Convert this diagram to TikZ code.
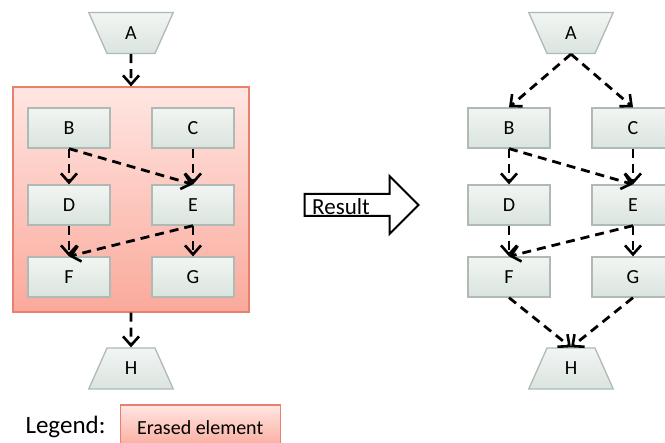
\documentclass[tikz,border=0pt]{standalone}
\usepackage{fontspec}
\setmainfont{Carlito}
\usetikzlibrary{arrows.meta,shapes.geometric,shapes.arrows}
\definecolor{boxtop}{HTML}{F2F5F3}
\definecolor{boxbot}{HTML}{DAE4DF}
\definecolor{boxline}{HTML}{AEBAB3}
\definecolor{redtop}{HTML}{FFE6E2}
\definecolor{redbot}{HTML}{FAA99B}
\definecolor{redline}{HTML}{E8806F}
\tikzset{
    stepbox/.style={draw=boxline, line width=1.3pt, top color=boxtop, bottom color=boxbot,
        minimum width=82pt, minimum height=40pt, font=\fontsize{20}{21}\selectfont},
    endbox/.style={draw=boxline, line width=1.3pt, top color=boxtop, bottom color=boxbot,
        font=\fontsize{20}{21}\selectfont, trapezium, trapezium angle=66, inner sep=0pt,
        text width=48pt, align=center, text height=27pt, text depth=14pt},
    erased/.style={draw=redline, line width=1.3pt, top color=redtop, bottom color=redbot},
    link/.style={line width=2.8pt, dash pattern=on 9pt off 6pt,
        -{Straight Barb[length=9pt,width=16pt,line width=2.6pt]}}
}
\begin{document}
\begin{tikzpicture}[x=1pt, y=-1pt]
    \useasboundingbox (0,0) rectangle (665,443);
    % Erased region on the left
    \node[erased, minimum width=236pt, minimum height=225pt] (area) at (131,199.5) {};
    % Draw both graphs
    \foreach \p/\off in {l/0, r/440} {
        \node[endbox, shape border rotate=180] (\p A) at (131+\off,33) {A};
        \node[endbox] (\p H) at (131+\off,368.5) {H};
        \foreach \name/\x/\y in {B/69/128, C/193/128, D/69/205, E/193/205, F/69/277, G/193/277}
            \node[stepbox] (\p\name) at (\x+\off,\y) {\name};
        \foreach \s/\t in {B/D, B/E, C/E, D/F, E/F, E/G}
            \draw[link] (\p\s.south) -- (\p\t.north);
    }
    % Edges in and out of the erased region
    \draw[link] (lA.south) -- (area.north);
    \draw[link] (area.south) -- (lH.north);
    % Edges of the result
    \draw[link] (rA.south) -- (rB.north);
    \draw[link] (rA.south) -- (rC.north);
    \draw[link] (rF.south) -- (rH.north);
    \draw[link] (rG.south) -- (rH.north);
    % Result arrow
    \node[single arrow, draw, line width=2pt, fill=white, minimum height=114pt,
        single arrow head extend=18pt, inner sep=0pt, text height=10pt, text depth=10pt,
        text width=60pt] (result) at (356,205) {};
    \node[font=\fontsize{23}{24}\selectfont, inner sep=0pt] (resulttext) at (341,207) {Result};
    % Legend
    \node[anchor=west, font=\fontsize{25}{26}\selectfont] (legend) at (22,427) {Legend:};
    \node[erased, anchor=north west, minimum width=160pt, minimum height=44pt,
        font=\fontsize{20}{22}\selectfont, text depth=0pt] (key) at (119.5,404.5) {Erased element};
\end{tikzpicture}
\end{document}
